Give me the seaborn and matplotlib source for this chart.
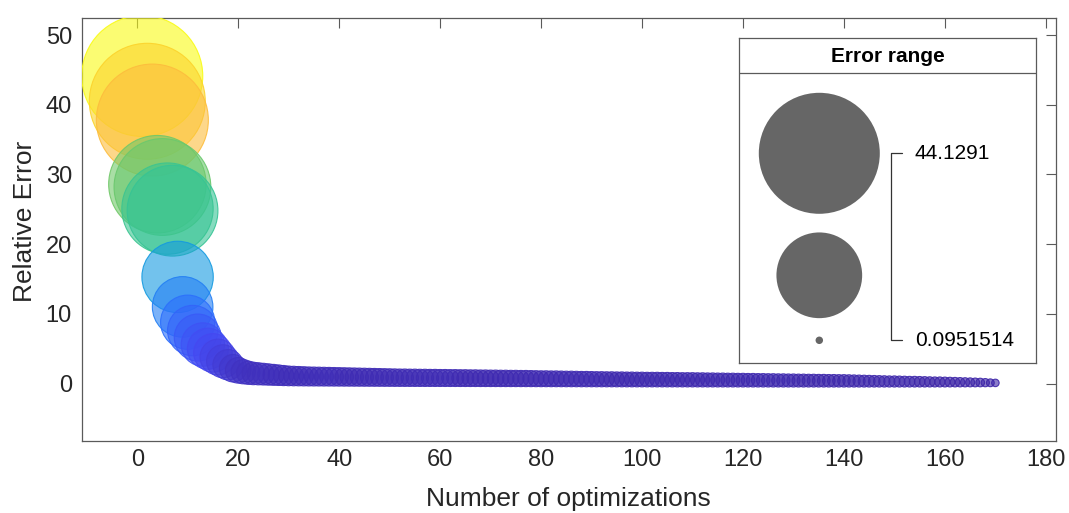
import numpy as np
import pandas as pd
import matplotlib
matplotlib.use("Agg")
import matplotlib.pyplot as plt
from matplotlib.colors import LinearSegmentedColormap
import seaborn as sns

# ---------------- data ----------------
iterations = list(range(1, 171))
rel_error = [
    44.1291, 40.5, 37.8, 28.6, 28.2, 25.1, 24.8, 15.3, 11.0, 8.8,
    7.6, 6.6, 5.6, 5.0, 4.4, 3.8, 3.2, 2.7, 2.2, 1.9,
    1.70, 1.55, 1.45, 1.40, 1.35, 1.30, 1.25, 1.20, 1.15, 1.10,
    1.08, 1.06, 1.04, 1.02, 1.01, 1.00, 0.99, 0.98, 0.97, 0.96,
    0.95, 0.94, 0.93, 0.92, 0.91, 0.90, 0.89, 0.88, 0.87, 0.86,
    0.85, 0.84, 0.84, 0.83, 0.83, 0.82, 0.82, 0.81, 0.81, 0.80,
    0.80, 0.79, 0.79, 0.78, 0.78, 0.77, 0.77, 0.76, 0.76, 0.75,
    0.75, 0.74, 0.74, 0.73, 0.73, 0.72, 0.72, 0.71, 0.70, 0.69,
    0.69, 0.68, 0.68, 0.67, 0.66, 0.66, 0.65, 0.64, 0.64, 0.63,
    0.62, 0.62, 0.61, 0.61, 0.60, 0.60, 0.59, 0.59, 0.58, 0.58,
    0.57, 0.57, 0.57, 0.56, 0.56, 0.55, 0.55, 0.54, 0.54, 0.54,
    0.53, 0.53, 0.52, 0.52, 0.51, 0.51, 0.50, 0.50, 0.49, 0.49,
    0.48, 0.48, 0.47, 0.47, 0.46, 0.46, 0.45, 0.45, 0.44, 0.44,
    0.43, 0.43, 0.42, 0.42, 0.41, 0.41, 0.40, 0.40, 0.39, 0.39,
    0.38, 0.37, 0.36, 0.35, 0.34, 0.33, 0.32, 0.31, 0.30, 0.30,
    0.29, 0.28, 0.27, 0.27, 0.26, 0.25, 0.24, 0.23, 0.23, 0.22,
    0.21, 0.20, 0.19, 0.18, 0.17, 0.16, 0.15, 0.13, 0.11, 0.0951514,
]
x_ticks = [0, 20, 40, 60, 80, 100, 120, 140, 160, 180]
y_ticks = [0, 10, 20, 30, 40, 50]
x_label = "Number of optimizations"
y_label = "Relative Error"
legend_title = "Error range"

df = pd.DataFrame({"iter": iterations, "err": rel_error})
vmin, vmax = min(rel_error), max(rel_error)

# parula-like colormap
parula = LinearSegmentedColormap.from_list("parula", [
    (0.00, (0.2422, 0.1504, 0.6603)),
    (0.10, (0.2700, 0.2850, 0.9500)),
    (0.20, (0.1700, 0.4400, 0.9900)),
    (0.30, (0.1000, 0.5600, 0.9200)),
    (0.40, (0.0500, 0.6600, 0.8400)),
    (0.50, (0.0800, 0.7400, 0.7000)),
    (0.60, (0.3000, 0.7900, 0.5100)),
    (0.70, (0.6000, 0.7800, 0.3000)),
    (0.78, (0.8500, 0.7400, 0.2400)),
    (0.86, (0.9950, 0.7400, 0.2400)),
    (0.92, (0.9850, 0.8300, 0.1700)),
    (1.00, (0.9769, 0.9839, 0.0805)),
])

S_MIN, S_MAX = 29.0, 7590.0   # marker areas in pt^2


def bubble_area(v):
    return S_MIN + (v - vmin) / (vmax - vmin) * (S_MAX - S_MIN)


# ---------------- style ----------------
sns.set_theme(style="white")
plt.rcParams["font.family"] = ["Liberation Sans", "DejaVu Sans"]
TXT = "#262626"
AX = "#5a5a5a"

fig = plt.figure(figsize=(10.69, 5.13), dpi=100)
ax = fig.add_axes([0.0764, 0.1409, 0.9114, 0.8234])

sns.scatterplot(data=df, x="iter", y="err", hue="err", size="err",
                palette=parula, hue_norm=(vmin, vmax),
                sizes=(S_MIN, S_MAX), size_norm=(vmin, vmax),
                legend=False, ax=ax, zorder=3)

coll = ax.collections[0]
fc = np.array(coll.get_facecolors())
ec = fc.copy()
fc[:, 3] = 0.6
ec[:, 3] = 0.9
coll.set_facecolors(fc)
coll.set_edgecolors(ec)
coll.set_linewidth(0.8)

ax.set_xlim(-11, 182)
ax.set_ylim(-8.2, 52.4)
ax.set_xticks(x_ticks)
ax.set_yticks(y_ticks)
ax.tick_params(direction="in", top=True, right=True, length=7, width=0.8,
               color=AX, labelsize=17, labelcolor=TXT)
ax.tick_params(axis="x", pad=6)
ax.tick_params(axis="y", pad=7)
for sp in ax.spines.values():
    sp.set_color(AX)
    sp.set_linewidth(0.9)
ax.set_xlabel(x_label, fontsize=19, color=TXT)
ax.set_ylabel(y_label, fontsize=19, color=TXT)
ax.xaxis.set_label_coords(0.5, -0.11)
ax.yaxis.set_label_coords(-0.046, 0.52)

# ---------------- bubble legend ----------------
W, H = 296.4, 324.4
lax = fig.add_axes([739.3 / 1069, 1 - 362.7 / 513, W / 1069, H / 513])
lax.set_xlim(0, W)
lax.set_ylim(H, 0)
lax.set_xticks([])
lax.set_yticks([])
lax.set_facecolor("white")
for sp in lax.spines.values():
    sp.set_color(AX)
    sp.set_linewidth(0.9)
lax.axhline(35, color=AX, lw=0.9)
lax.text(W / 2, 18, legend_title, ha="center", va="center",
         fontsize=15, fontweight="bold", color="black")

leg_vals = [vmax, (vmax + vmin) / 2, vmin]
leg_y = [115.0, 237.0, 302.0]
lax.scatter([80.0] * 3, leg_y, s=[bubble_area(v) for v in leg_vals],
            color="#666666", edgecolors="none", zorder=3)
lax.plot([162.7, 151.7, 151.7, 162.7], [leg_y[0], leg_y[0], leg_y[2], leg_y[2]],
         color="#333333", lw=0.9)
lax.text(175.7, leg_y[0], "%g" % vmax, ha="left", va="center",
         fontsize=15, color="black")
lax.text(175.7, leg_y[2], "%g" % vmin, ha="left", va="center",
         fontsize=15, color="black")

fig.savefig("out.png", dpi=100)
